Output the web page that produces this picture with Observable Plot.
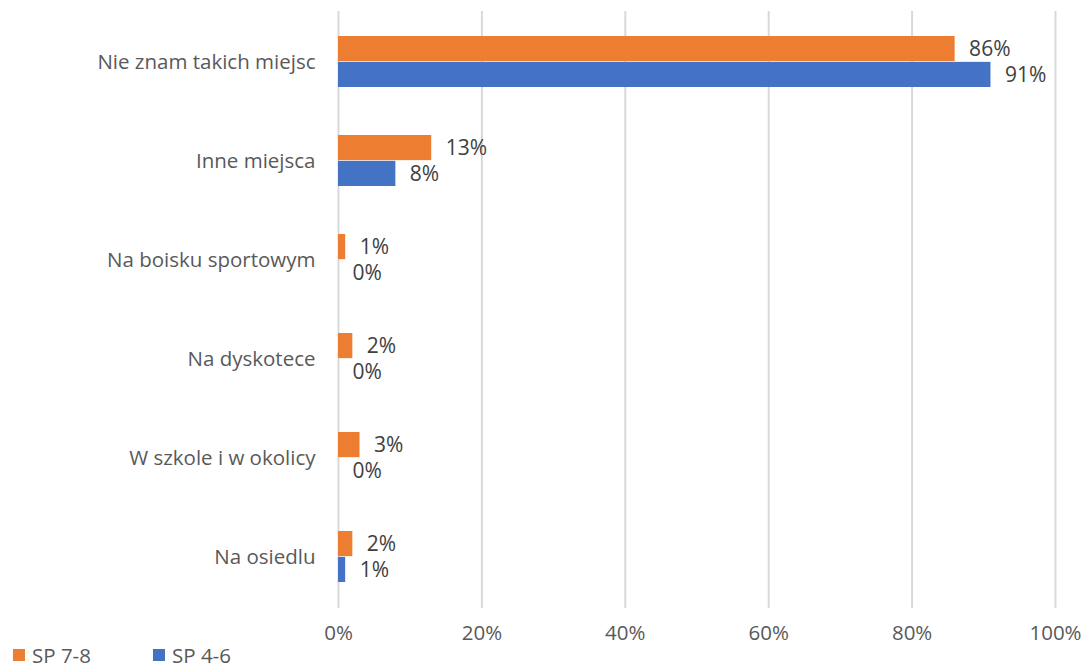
<!DOCTYPE html>
<html>
<head>
<meta charset="utf-8">
<script src="https://cdn.jsdelivr.net/npm/d3@7"></script>
<script src="https://cdn.jsdelivr.net/npm/@observablehq/plot@0.6"></script>
<style>
  html, body { margin: 0; padding: 0; background: #fff; }
  body { width: 1089px; height: 668px; overflow: hidden; font-family: "Open Sans", sans-serif; }
  #legend { position: relative; height: 23px; font-size: 20.5px; color: #595959; }
  .item { position: absolute; top: -2px; display: flex; align-items: center; height: 23px; }
  .sw { width: 12px; height: 12px; margin-right: 7px; }
</style>
</head>
<body>
<div id="chart"></div>
<div id="legend"></div>
<script>
const categories = ["Nie znam takich miejsc", "Inne miejsca", "Na boisku sportowym", "Na dyskotece", "W szkole i w okolicy", "Na osiedlu"];
const series = ["SP 7-8", "SP 4-6"];
const sp78 = [86, 13, 1, 2, 3, 2];
const sp46 = [91, 8, 0, 0, 0, 1];
const xTicks = [0, 20, 40, 60, 80, 100];
const colors = ["#ED7D31", "#4472C4"];

const rows78 = categories.map((c, i) => ({cat: c, v: sp78[i]}));
const rows46 = categories.map((c, i) => ({cat: c, v: sp46[i]}));

const W = 1089, H = 645;
const chart = Plot.plot({
  width: W,
  height: H,
  marginLeft: 338,
  marginRight: 34,
  marginTop: 11,
  marginBottom: 37,
  style: {fontFamily: "'Open Sans', sans-serif", fontSize: "20.5px", color: "#595959", background: "#fff"},
  x: {domain: [0, 100], ticks: xTicks, tickFormat: d => d + "%", label: null, tickSize: 0, tickPadding: 17},
  y: {domain: categories, paddingInner: 0.48, paddingOuter: 0.24, label: null, tickSize: 0, tickPadding: 23},
  marks: [
    Plot.gridX(xTicks, {stroke: "#d9d9d9", strokeOpacity: 1, strokeWidth: 2}),
    Plot.barX(rows78, {x: "v", y: "cat", fill: colors[0], insetBottom: 25.85, insetTop: 0}),
    Plot.barX(rows46, {x: "v", y: "cat", fill: colors[1], insetTop: 25.85, insetBottom: 0}),
    Plot.text(rows78, {x: "v", y: "cat", text: d => d.v + "%", textAnchor: "start", dx: 14, dy: -13, fill: "#404040", fontSize: 21}),
    Plot.text(rows46, {x: "v", y: "cat", text: d => d.v + "%", textAnchor: "start", dx: 14, dy: 13, fill: "#404040", fontSize: 21})
  ]
});
document.getElementById("chart").appendChild(chart);

const legend = document.getElementById("legend");
const lx = [13, 153];
series.forEach((s, i) => {
  const it = document.createElement("div");
  it.className = "item";
  it.style.left = lx[i] + "px";
  it.innerHTML = `<div class="sw" style="background:${colors[i]}"></div><span>${s}</span>`;
  legend.appendChild(it);
});
</script>
</body>
</html>
